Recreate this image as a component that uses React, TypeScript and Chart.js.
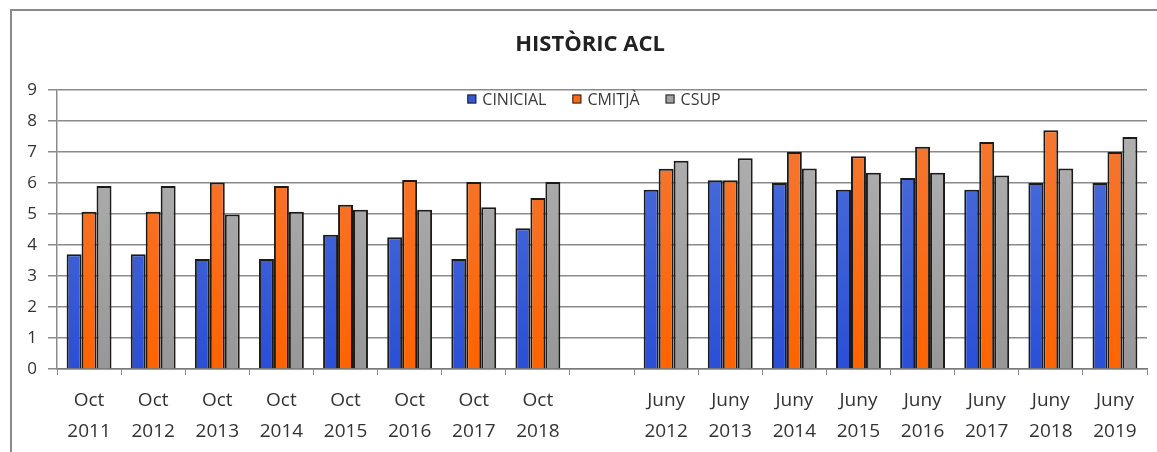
import React, { useEffect, useRef } from "react";
import { Chart, registerables } from "chart.js";

Chart.register(...registerables);

const categories: string[][] = [
  ["Oct", "2011"], ["Oct", "2012"], ["Oct", "2013"], ["Oct", "2014"],
  ["Oct", "2015"], ["Oct", "2016"], ["Oct", "2017"], ["Oct", "2018"],
  [""],
  ["Juny", "2012"], ["Juny", "2013"], ["Juny", "2014"], ["Juny", "2015"],
  ["Juny", "2016"], ["Juny", "2017"], ["Juny", "2018"], ["Juny", "2019"],
];

const chartTitle = "HISTÒRIC ACL";
const seriesNames = ["CINICIAL", "CMITJÀ", "CSUP"];

const cinicial = [3.7, 3.7, 3.55, 3.55, 4.33, 4.25, 3.55, 4.54, null, 5.78, 6.09, 6.0, 5.78, 6.16, 5.78, 6.0, 6.0];
const cmitja = [5.07, 5.07, 6.02, 5.9, 5.3, 6.1, 6.03, 5.52, null, 6.46, 6.09, 7.0, 6.86, 7.17, 7.32, 7.7, 7.0];
const csup = [5.9, 5.9, 4.98, 5.07, 5.14, 5.14, 5.22, 6.03, null, 6.72, 6.8, 6.47, 6.33, 6.33, 6.24, 6.47, 7.48];

const yTicks = [0, 1, 2, 3, 4, 5, 6, 7, 8, 9];

const FONT = '"Open Sans", "DejaVu Sans", sans-serif';
const solid = ["#3557d2", "#fb6a10", "#a2a2a2"];
const gradTop = ["#5473d8", "#f27a3a", "#b4b4b4"];
const gradBottom = ["#2a4fd6", "#ff6300", "#979797"];

function makeFill(i: number) {
  return (ctx: any) => {
    const chart = ctx.chart;
    const area = chart.chartArea;
    if (!area) return solid[i];
    const g = chart.ctx.createLinearGradient(0, area.top, 0, area.bottom);
    g.addColorStop(0, gradTop[i]);
    g.addColorStop(1, gradBottom[i]);
    return g;
  };
}

const titleLegendPlugin = {
  id: "titleLegend",
  afterDraw(chart: any) {
    const ctx = chart.ctx;
    ctx.save();
    // title
    ctx.font = `bold 22px ${FONT}`;
    ctx.fillStyle = "#222";
    ctx.textAlign = "center";
    ctx.textBaseline = "middle";
    ctx.fillText(chartTitle, 590, 45);
    // legend
    ctx.font = `16px ${FONT}`;
    const box = 9;
    const gapBT = 6;
    const gapItems = 26;
    const ds = chart.data.datasets;
    const widths = ds.map((d: any) => ctx.measureText(d.label).width);
    const total = widths.reduce((a: number, w: number) => a + box + gapBT + w, 0) + gapItems * (ds.length - 1);
    let x = 594 - total / 2;
    const y = 99;
    ds.forEach((d: any, i: number) => {
      ctx.fillStyle = solid[i];
      ctx.fillRect(x, y - box / 2, box, box);
      ctx.strokeStyle = "#222";
      ctx.lineWidth = 1;
      ctx.strokeRect(x + 0.5, y - box / 2 + 0.5, box - 1, box - 1);
      ctx.fillStyle = "#3a3a3a";
      ctx.textBaseline = "middle";
      ctx.textAlign = "left";
      ctx.fillText(d.label, x + box + gapBT, y + 1);
      x += box + gapBT + widths[i] + gapItems;
    });
    ctx.restore();
  },
};

export default function App() {
  const ref = useRef<HTMLCanvasElement | null>(null);

  useEffect(() => {
    if (!ref.current) return;
    const data = [cinicial, cmitja, csup];
    const chart = new Chart(ref.current, {
      type: "bar",
      data: {
        labels: categories,
        datasets: seriesNames.map((name, i) => ({
          label: name,
          data: data[i],
          backgroundColor: makeFill(i),
          borderColor: "#1b1b1b",
          borderWidth: 2,
          barPercentage: 1,
          categoryPercentage: 0.7,
        })),
      },
      options: {
        animation: false,
        responsive: false,
        maintainAspectRatio: false,
        layout: { padding: { left: 0, right: 10, top: 90, bottom: 0 } },
        plugins: {
          legend: { display: false },
          tooltip: { enabled: false },
          title: { display: false },
        },
        scales: {
          x: {
            offset: true,
            grid: {
              display: true,
              drawOnChartArea: false,
              drawTicks: true,
              tickLength: 6,
              offset: true,
              color: "#8a8a8a",
              lineWidth: 1,
            },
            border: { display: true, color: "#7a7a7a", width: 1.5 },
            ticks: {
              color: "#333",
              font: { family: FONT, size: 19, lineHeight: 1.63 },
              padding: 10,
              maxRotation: 0,
              autoSkip: false,
            },
            afterFit: (scale: any) => {
              scale.height = 83;
            },
          },
          y: {
            min: 0,
            max: 9,
            afterBuildTicks: (scale: any) => {
              scale.ticks = yTicks.map((v) => ({ value: v }));
            },
            grid: {
              color: "#8a8a8a",
              lineWidth: 1.5,
              drawTicks: true,
              tickLength: 9,
            },
            border: { display: true, color: "#8a8a8a", width: 1.5 },
            ticks: {
              color: "#333",
              font: { family: FONT, size: 17 },
              padding: 11,
            },
            afterFit: (scale: any) => {
              scale.width = 57;
            },
          },
        },
      },
      plugins: [titleLegendPlugin],
    });
    return () => chart.destroy();
  }, []);

  return (
    <div
      style={{
        position: "fixed",
        left: 0,
        top: 0,
        width: 1157,
        height: 452,
        overflow: "hidden",
        background: "#fff",
      }}
    >
      <canvas ref={ref} width={1157} height={452} style={{ display: "block", width: 1157, height: 452 }} />
      <div
        style={{
          position: "absolute",
          left: 10,
          top: 9,
          width: 1400,
          height: 600,
          borderTop: "2px solid #8a8a8a",
          borderLeft: "2px solid #8a8a8a",
          pointerEvents: "none",
        }}
      />
    </div>
  );
}
